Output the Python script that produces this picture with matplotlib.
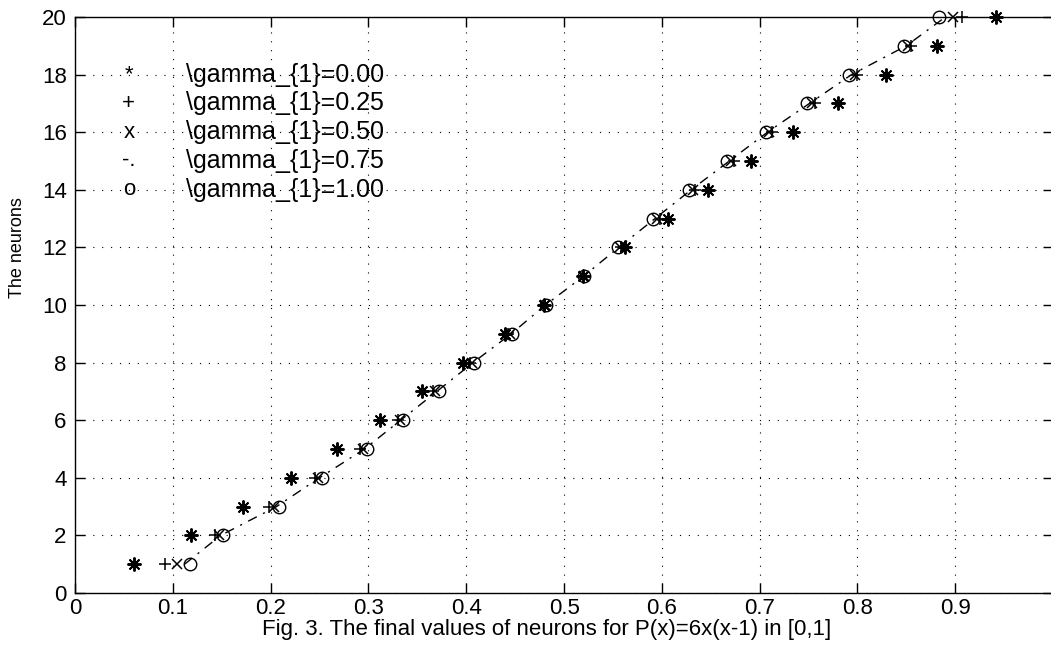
import numpy as np
import matplotlib.pyplot as plt

plt.rcParams['font.family'] = ['Liberation Sans', 'DejaVu Sans']

# номера нейронов и их итоговые значения для разных gamma_1
neurons = np.arange(1, 21)
x_g000 = [0.060, 0.119, 0.172, 0.221, 0.268, 0.312, 0.355, 0.397, 0.440, 0.479,
          0.519, 0.562, 0.606, 0.647, 0.691, 0.734, 0.780, 0.829, 0.881, 0.942]
x_g025 = [0.092, 0.143, 0.198, 0.245, 0.291, 0.330, 0.366, 0.404, 0.443, 0.480,
          0.519, 0.558, 0.598, 0.634, 0.674, 0.713, 0.757, 0.800, 0.855, 0.907]
x_g050 = [0.104, 0.147, 0.203, 0.248, 0.294, 0.332, 0.368, 0.406, 0.445, 0.481,
          0.520, 0.557, 0.595, 0.632, 0.671, 0.710, 0.754, 0.797, 0.852, 0.898]
x_g075 = [0.112, 0.149, 0.206, 0.250, 0.296, 0.333, 0.370, 0.407, 0.446, 0.481,
          0.520, 0.556, 0.593, 0.630, 0.669, 0.708, 0.751, 0.794, 0.850, 0.890]
x_g100 = [0.118, 0.151, 0.209, 0.252, 0.298, 0.335, 0.372, 0.408, 0.447, 0.482,
          0.520, 0.555, 0.591, 0.628, 0.667, 0.706, 0.748, 0.791, 0.848, 0.883]

legend_keys = ['*', '+', 'x', '-.', 'o']
legend_labels = [r'\gamma_{1}=0.00', r'\gamma_{1}=0.25', r'\gamma_{1}=0.50',
                 r'\gamma_{1}=0.75', r'\gamma_{1}=1.00']
legend_rows = [18, 17, 16, 15, 14]
xtick_labels = ['0', '0.1', '0.2', '0.3', '0.4', '0.5', '0.6', '0.7', '0.8',
                '0.9', '']

fig = plt.figure(figsize=(10.51, 6.47), dpi=100)
ax = fig.add_axes([0.0714, 0.0835, 0.9306, 0.8903])

# звёздочка из 8 лучей, как маркер '*' в MATLAB
star = (8, 2, 0)
ax.plot(x_g000, neurons, linestyle='none', marker=star, markersize=10,
        markeredgewidth=1.4, color='k', clip_on=False)
ax.plot(x_g025, neurons, linestyle='none', marker='+', markersize=9,
        markeredgewidth=1.1, color='k', clip_on=False)
ax.plot(x_g050, neurons, linestyle='none', marker='x', markersize=7.5,
        markeredgewidth=1.1, color='k', clip_on=False)
ax.plot(x_g075, neurons, linestyle=(0, (7, 5, 1.5, 5)), linewidth=1.0,
        color='k')
ax.plot(x_g100, neurons, linestyle='none', marker='o', markersize=9,
        markeredgewidth=1.0, markerfacecolor='none', color='k', clip_on=False)

# легенда из текстовых подписей, как в оригинале
for key, lab, row in zip(legend_keys, legend_labels, legend_rows):
    ax.text(0.055, row, key, fontsize=16, ha='center', va='center')
    ax.text(0.113, row, lab, fontsize=18, ha='left', va='center')

ax.set_xlim(0, 1)
ax.set_ylim(0, 20)
ax.set_xticks(np.arange(0, 1.01, 0.1))
ax.set_xticklabels(xtick_labels)
ax.set_yticks(np.arange(0, 21, 2))
ax.tick_params(direction='in', length=7, width=1, labelsize=16,
               top=True, right=True)
ax.tick_params(axis='y', pad=6)
ax.grid(True, linestyle=(0, (1, 7)), color='k', linewidth=0.8)
for s in ax.spines.values():
    s.set_linewidth(1.0)

ax.set_ylabel('The neurons', fontsize=13)
ax.yaxis.set_label_coords(-0.050, 0.60)
ax.set_xlabel('Fig. 3. The final values of neurons for P(x)=6x(x-1) in [0,1]',
              fontsize=16)
ax.xaxis.set_label_coords(0.482, -0.045)

fig.savefig('out.png', dpi=100)
